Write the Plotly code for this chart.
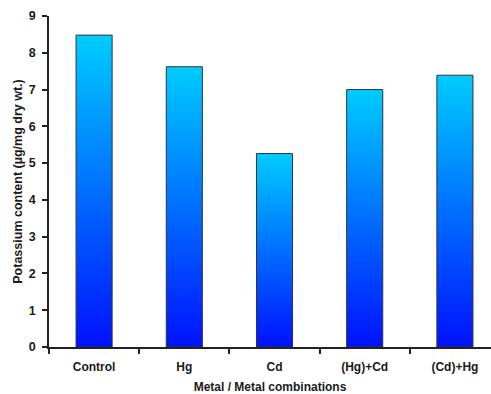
import plotly.graph_objects as go

categories = ["Control", "Hg", "Cd", "(Hg)+Cd", "(Cd)+Hg"]
potassium = [8.48, 7.62, 5.26, 7.00, 7.39]

bar_width = 0.4
fig = go.Figure()
for i, (cat, val) in enumerate(zip(categories, potassium)):
    x0, x1 = i - bar_width / 2, i + bar_width / 2
    fig.add_trace(go.Scatter(
        x=[x0, x0, x1, x1, x0], y=[0, val, val, 0, 0],
        mode="lines", fill="toself",
        fillgradient=dict(type="vertical",
                          colorscale=[[0, "#0011FF"], [1, "#00CCFF"]]),
        line=dict(color="#333333", width=1),
        name=cat, showlegend=False, hoverinfo="text", text=f"{cat}: {val}",
    ))

font_bold = "Liberation Sans"
fig.update_layout(
    width=491, height=394,
    margin=dict(l=49, r=0, t=16, b=47),
    paper_bgcolor="white", plot_bgcolor="white",
    font=dict(family=font_bold, color="#1a1a1a"),
    xaxis=dict(
        range=[-0.5, 4.4], tickmode="array",
        tickvals=list(range(len(categories))),
        ticktext=[f"<b>{c}</b>" for c in categories],
        ticks="", showgrid=False, zeroline=False, automargin=False,
        showline=True, linecolor="#222222", linewidth=1.5,
        tickfont=dict(size=12, family=font_bold),
        ticklabelstandoff=8,
        minor=dict(ticks="outside", tick0=0.5, dtick=1, ticklen=5,
                   tickcolor="#222222", tickwidth=1.5, showgrid=False),
        title=dict(text="<b>Metal / Metal combinations</b>",
                   font=dict(size=12), standoff=17),
        fixedrange=True,
    ),
    yaxis=dict(
        range=[0, 9], dtick=1, tick0=0, automargin=False,
        ticks="outside", ticklen=5, tickcolor="#222222", tickwidth=1.5,
        showgrid=False, zeroline=False,
        showline=True, linecolor="#222222", linewidth=1.5,
        tickfont=dict(size=12.5, family=font_bold),
        ticklabelstandoff=4,
        tickprefix="<b>", ticksuffix="</b>",
        title=dict(text="<b>Potassium content (µg/mg dry wt.)</b>",
                   font=dict(size=12.5), standoff=3),
        fixedrange=True,
    ),
)

fig.write_html("out.html", config={"displayModeBar": False},
               post_script="document.body.style.margin='0';")
